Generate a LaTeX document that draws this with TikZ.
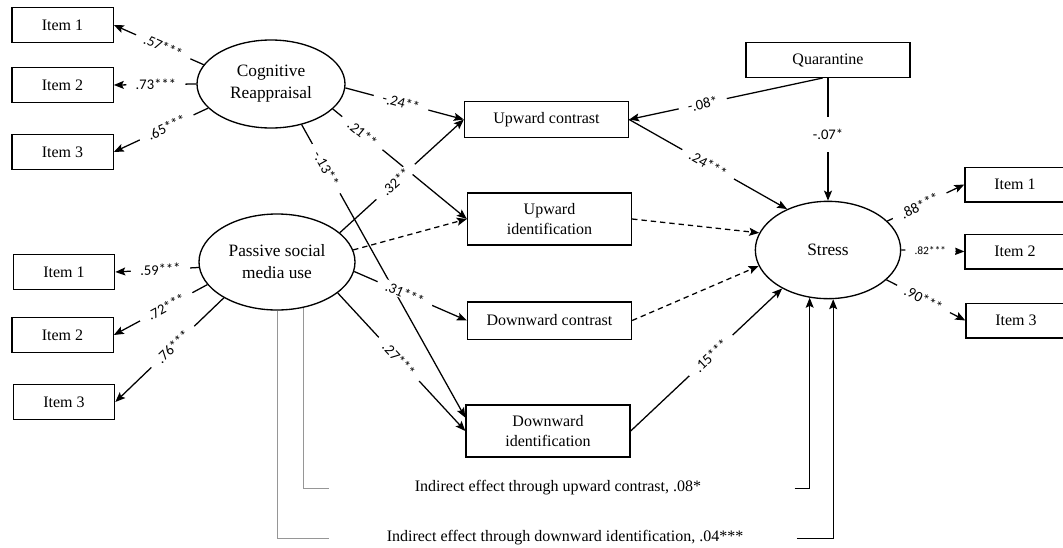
\documentclass[tikz,border=0pt]{standalone}
\usepackage{fontspec}
\setmainfont{Liberation Serif}
\newfontfamily\coeffont{Carlito}
\usepackage{tikz}
\usetikzlibrary{shapes.geometric, arrows.meta, positioning, calc}
\definecolor{linegray}{RGB}{150,150,150}
\tikzset{
  obs/.style={rectangle, draw, line width=1pt, minimum width=76pt, minimum height=26pt,
              inner sep=2pt, font=\fontsize{12}{14}\selectfont},
  med/.style={rectangle, draw, line width=1pt, minimum width=123pt, minimum height=27pt,
              align=center, font=\fontsize{12}{14.5}\selectfont},
  lat/.style={ellipse, draw, line width=1pt, align=center, inner sep=0pt,
              font=\fontsize{13}{16.5}\selectfont},
  arr/.style={-{Stealth[length=7.5pt,width=6pt,inset=1.5pt]}, line width=0.95pt},
  darr/.style={arr, dash pattern=on 4pt off 3pt},
  lbl/.style={fill=white, inner xsep=7pt, inner ysep=0.5pt, font=\coeffont\fontsize{11}{13}\selectfont},
  coef/.style={lbl, sloped},
  bracket/.style={line width=0.7pt, draw=linegray},
  note/.style={inner sep=0pt, font=\fontsize{12}{14}\selectfont},
}
\newcommand{\eff}[5][arr]{\draw[#1] (#2) -- node[coef,pos=#4]{#5} (#3);}

\begin{document}
\begin{tikzpicture}[x=0.75pt, y=-0.75pt]
\useasboundingbox (0,0) rectangle (1063,547);

% Latent variables
\node[lat, minimum width=111pt, minimum height=66pt] (cr) at (271,84) {Cognitive\\Reappraisal};
\node[lat, minimum width=117pt, minimum height=72pt] (psmu) at (277,262) {Passive social\\media use};
\node[lat, minimum width=109pt, minimum height=73pt] (stress) at (828,250) {Stress};

% Indicators
\node[obs] (li1) at (62.5,25) {Item 1};
\node[obs] (li2) at (62.5,85) {Item 2};
\node[obs] (li3) at (62.5,152) {Item 3};
\node[obs] (lb1) at (64,272) {Item 1};
\node[obs] (lb2) at (62.5,335) {Item 2};
\node[obs] (lb3) at (64,402) {Item 3};
\node[obs, minimum width=75pt] (ri1) at (1015,184.5) {Item 1};
\node[obs, minimum width=75pt] (ri2) at (1015,251.5) {Item 2};
\node[obs, minimum width=75pt] (ri3) at (1016,320.5) {Item 3};

% Mediators and control
\node[med] (uc) at (546.5,119.5) {Upward contrast};
\node[med, minimum height=39pt] (ui) at (549.5,219) {Upward\\identification};
\node[med, minimum height=28pt] (dc) at (549.5,320.5) {Downward contrast};
\node[med, minimum height=39pt] (di) at (548,431) {Downward\\identification};
\node[med, minimum height=26pt] (quar) at (828,60) {Quarantine};

% Loadings
\eff{cr.164}{li1.east}{0.45}{.57***}
\eff{cr.180}{li2.east}{0.49}{.73***}
\eff{cr.201}{li3.east}{0.44}{.65***}
\eff{psmu.184}{lb1.east}{0.46}{.59***}
\eff{psmu.198}{lb2.east}{0.44}{.72***}
\eff{psmu.214}{lb3.east}{0.47}{.76***}

% Paths to mediators
\eff{cr.357}{uc.west}{0.47}{-.24**}
\eff{cr.338}{ui.west}{0.22}{.21**}
\eff{psmu.25}{uc.west}{0.45}{.32**}
\draw[darr] (psmu.9) -- (ui.west);
\eff{psmu.333}{di.west}{0.48}{.27***}
\eff{cr.307}{[yshift=10pt]di.west}{0.15}{-.13**}
\eff{psmu.353}{dc.west}{0.45}{.31***}

% Paths to stress
\eff{uc.east}{stress.135}{0.5}{.24***}
\eff{[xshift=-4pt]quar.south}{uc.east}{0.62}{-.08*}
\draw[arr] (quar.south) -- node[lbl, inner ysep=9pt, pos=0.46]{-.07*} (stress.north);
\draw[darr] (ui.east) -- (stress.166);
\draw[darr] (dc.east) -- (stress.193);
\eff{di.east}{stress.220}{0.53}{.15***}

% Stress indicators
\eff{stress.26}{ri1.west}{0.42}{.88***}
\eff{stress.0}{ri2.west}{0.46}{\fontsize{8.5}{10}\selectfont .82***}
\eff{stress.333}{ri3.west}{0.47}{.90***}

% Indirect effects
\node[note] (ind1) at (558,488) {Indirect effect through upward contrast, .08*};
\node[note] (ind2) at (565,538) {Indirect effect through downward identification, .04***};
\draw[bracket] (psmu.300) |- ([xshift=-64pt]ind1.west);
\draw[bracket] (psmu.south) |- ([xshift=-43pt]ind2.west);
\draw[arr, line width=0.7pt] ([xshift=70pt]ind1.east) -| (stress.249);
\draw[arr, line width=0.7pt] ([xshift=40pt]ind2.east) -| (stress.276);

\end{tikzpicture}
\end{document}
